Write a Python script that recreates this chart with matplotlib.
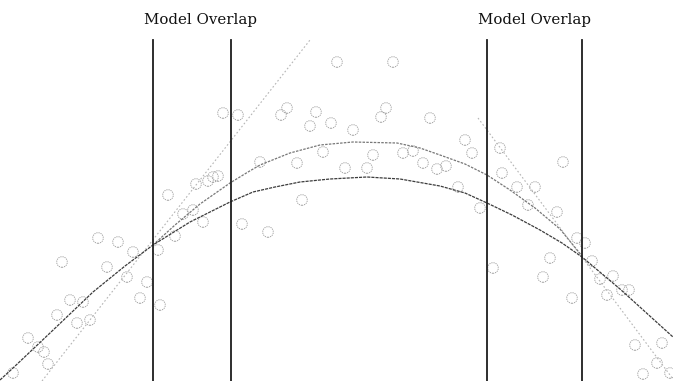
import matplotlib
matplotlib.use("Agg")
import matplotlib.pyplot as plt
import numpy as np

# observed samples
obs_x = [13, 28, 38, 44, 48, 57, 70, 83, 77, 90, 62, 98, 118, 107, 127, 133, 140, 147, 160,
         158, 168, 175, 183, 193, 203, 196, 208, 213, 218,
         223, 238, 242, 268, 260, 281, 287, 297, 302, 316, 310, 331, 337, 323, 345, 353, 367,
         373, 381, 386, 393, 403, 413, 423, 430, 437, 446, 458, 465, 472, 480,
         493, 500, 502, 517, 535, 528, 557, 563, 550, 543, 572, 577,
         585, 592, 600, 613, 607, 622, 629, 635, 662, 657, 643, 670]
obs_y = [8, 43, 34, 29, 17, 66, 81, 79, 58, 61, 119, 143, 139, 114, 104, 129, 83, 99, 76,
         131, 186, 145, 167, 171, 159, 197, 200, 204, 205,
         268, 266, 157, 149, 219, 266, 273, 218, 181, 269, 255, 258, 319, 229, 213, 251, 213,
         226, 264, 273, 319, 228, 230, 218, 263, 212, 215, 194, 241, 228, 173,
         113, 233, 208, 194, 194, 176, 169, 219, 123, 104, 83, 143,
         138, 120, 102, 105, 86, 91, 91, 36, 38, 18, 7, 8]

# combined fit over the whole range
combined_x = [0, 13, 50, 93, 125, 153, 190, 230, 253, 275, 300, 330, 367, 400, 440, 465, 487,
              512, 540, 562, 582, 620, 673]
combined_y = [1, 13, 48, 89, 115, 136, 159, 179, 189, 194, 199, 202, 204, 202, 195, 188, 178,
              166, 151, 138, 124, 92, 44]

# middle (quadratic) model
middle_x = [153, 175, 200, 230, 248, 260, 290, 320, 353, 397, 420, 440, 465, 487, 510, 535, 560, 582]
middle_y = [136, 156, 177, 198, 209, 216, 228, 236, 239, 238, 233, 226, 217, 206, 191, 173, 152, 125]

# left and right linear models
left_x = [42, 310]
left_y = [0, 341]
right_x = [478, 673]
right_y = [263, 2]

# overlap boundaries and label positions
bounds = [153, 231, 487, 582]
label_x = [200, 535]
overlap_labels = ["Model Overlap", "Model Overlap"]

fig = plt.figure(figsize=(6.73, 3.81), dpi=100)
ax = fig.add_axes([0, 0, 1, 1])
ax.set_xlim(0, 673)
ax.set_ylim(0, 381)
ax.axis("off")

ax.scatter(obs_x, obs_y, s=58, facecolors="none", edgecolors="#a0a0a0",
           linewidths=0.7, linestyles=(0, (1.2, 1.0)), zorder=2)

ax.plot(left_x, left_y, color="#b5b5b5", lw=0.8, ls=(0, (1.5, 2.0)), zorder=3)
ax.plot(right_x, right_y, color="#b5b5b5", lw=0.8, ls=(0, (1.5, 2.0)), zorder=3)
ax.plot(middle_x, middle_y, color="#777777", lw=0.9, ls=(0, (2.0, 1.0)), zorder=3)
ax.plot(combined_x, combined_y, color="#3c3c3c", lw=0.9, ls=(0, (2.5, 0.8)), zorder=4)

for bx in bounds:
    ax.plot([bx, bx], [0, 341], color="#1e1e1e", lw=1.3, zorder=5)

for lx, label in zip(label_x, overlap_labels):
    ax.text(lx, 361, label, ha="center", va="center", fontsize=10.8,
            family="DejaVu Serif", color="#111111")

fig.savefig("out.png", dpi=100)
